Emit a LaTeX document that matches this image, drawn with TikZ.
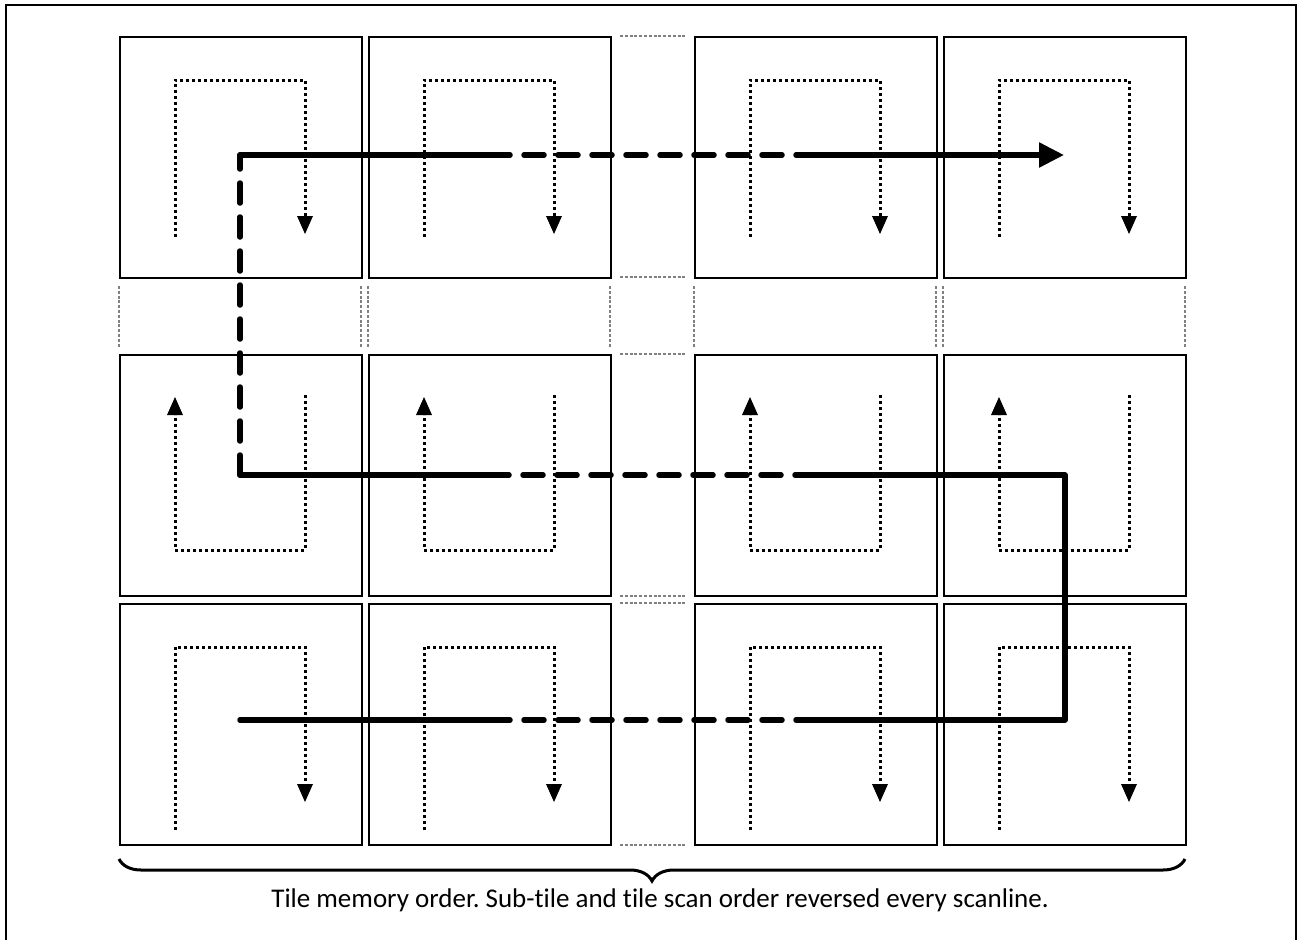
\documentclass[tikz,border=0pt]{standalone}
\usepackage{fontspec}
\setmainfont{Carlito}[Ligatures=NoCommon]
\usetikzlibrary{arrows.meta,decorations.pathreplacing,calc}
\tikzset{
  tile/.style={draw=black, line width=2pt, minimum width=242pt, minimum height=241pt, inner sep=0pt, anchor=north west},
  ghost/.style={draw=black!50, line width=2.8pt, dash pattern=on 3pt off 1.8pt},
  scan/.style={draw=black, line width=3pt, dash pattern=on 3pt off 3pt},
  scanarrow/.style={scan, -{Triangle[length=18pt,width=16pt,line width=0pt]}},
  order/.style={draw=black, line width=5.5pt, line cap=round},
  orderdash/.style={order, dash pattern=on 20pt off 14pt},
  bracestyle/.style={draw=black, line width=3pt, decorate, decoration={brace, mirror, amplitude=22pt}},
  caption/.style={font=\fontsize{27}{30}\selectfont, inner sep=0pt}
}
\begin{document}
\frenchspacing
\begin{tikzpicture}[x=1pt,y=-1pt]
\useasboundingbox (0,0) rectangle (1299,940);
\draw[line width=2.5pt] (6,941) -- (6,5) -- (1296,5) -- (1296,941);
% tiles
\foreach \c/\x in {1/119,2/368,3/694,4/943}{
  \foreach \r/\y in {1/36,2/354,3/603}{
    \node[tile] (t\r\c) at (\x,\y) {};
  }
}
% ghost column and row
\foreach \y in {36,277,354,596,603,845}{
  \draw[ghost] (620,\y) -- (687,\y);
}
\foreach \x in {119,361,368,610,694,936,943,1185}{
  \draw[ghost] (\x,286) -- (\x,347);
}
% sub-tile scan paths
\foreach \x in {119,368,694,943}{
  % row 1 (down)
  \draw[scanarrow] (\x+56,237) -- (\x+56,80) -- (\x+186,80) -- (\x+186,234);
  % row 2 (up)
  \draw[scanarrow] (\x+186,395) -- (\x+186,550) -- (\x+56,550) -- (\x+56,397);
  % row 3 (down)
  \draw[scanarrow] (\x+56,830) -- (\x+56,647) -- (\x+186,647) -- (\x+186,802);
}
% tile memory order path
\coordinate (a1) at (240,155);
\coordinate (a2) at (490,155);
\coordinate (a3) at (815,155);
\coordinate (a4) at (1064,155);
\coordinate (b1) at (240,475);
\coordinate (b2) at (490,475);
\coordinate (b3) at (815,475);
\coordinate (b4) at (1065,475);
\coordinate (c1) at (240,720);
\coordinate (c2) at (490,720);
\coordinate (c3) at (815,720);
\coordinate (c4) at (1065,720);
\draw[order] (c1) -- (c2);
\draw[orderdash] (c2) -- (c3);
\draw[order, line join=round] (c3) -- (c4) -- (b4) -- (b3);
\draw[orderdash] (b3) -- (b2);
\draw[order] (b2) -- (b1);
\draw[orderdash] (b1) -- (a1);
\draw[order] (a1) -- (a2);
\draw[orderdash] (a2) -- (a3);
\draw[order, line cap=butt, -{Triangle[length=25pt,width=24pt]}] (a3) -- (a4);
% brace and caption
\coordinate (bl) at (119,859);
\coordinate (br) at (1185,859);
\draw[bracestyle] (bl) -- (br);
\node[caption] (cap) at (660,900) {Tile memory order. Sub-tile and tile scan order reversed every scanline.};
\end{tikzpicture}
\end{document}
